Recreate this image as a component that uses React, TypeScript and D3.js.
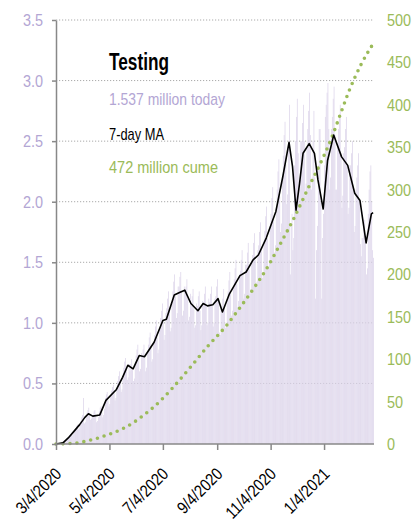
import React, { useEffect, useRef } from "react";
import * as d3 from "d3";

// daily tests (millions), one row per week starting Wed 3/4/2020
const dailyTests = [
  0.0, 0.0, 0.01, 0.0, 0.0, 0.01, 0.01,
  0.02, 0.02, 0.03, 0.03, 0.02, 0.03, 0.04,
  0.06, 0.07, 0.08, 0.09, 0.07, 0.08, 0.1,
  0.12, 0.13, 0.15, 0.16, 0.12, 0.13, 0.16,
  0.19, 0.22, 0.24, 0.38, 0.17, 0.18, 0.23,
  0.26, 0.28, 0.3, 0.25, 0.2, 0.21, 0.24,
  0.24, 0.27, 0.28, 0.24, 0.18, 0.19, 0.22,
  0.27, 0.3, 0.31, 0.26, 0.22, 0.24, 0.29,
  0.38, 0.41, 0.43, 0.36, 0.31, 0.33, 0.4,
  0.44, 0.47, 0.49, 0.42, 0.36, 0.38, 0.46,
  0.52, 0.56, 0.6, 0.52, 0.43, 0.45, 0.55,
  0.63, 0.68, 0.71, 0.62, 0.53, 0.55, 0.66,
  0.6, 0.66, 0.7, 0.61, 0.52, 0.54, 0.68,
  0.73, 0.78, 0.82, 0.7, 0.6, 0.62, 0.75,
  0.72, 0.78, 0.82, 0.71, 0.6, 0.63, 0.76,
  0.82, 0.88, 0.92, 0.8, 0.68, 0.7, 0.84,
  0.9, 0.97, 1.02, 0.88, 0.75, 0.78, 0.94,
  1.04, 1.1, 1.16, 1.01, 0.86, 0.9, 1.08,
  1.12, 1.2, 1.26, 1.1, 0.93, 0.96, 1.16,
  1.26, 1.34, 1.4, 1.22, 1.04, 1.08, 1.3,
  1.3, 1.38, 1.42, 1.25, 1.06, 1.1, 1.3,
  1.24, 1.3, 1.36, 1.2, 1.02, 1.05, 1.24,
  1.14, 1.22, 1.28, 1.12, 0.96, 0.98, 1.16,
  1.14, 1.22, 1.26, 1.1, 0.94, 0.98, 1.18,
  1.16, 1.24, 1.3, 1.14, 0.98, 1.0, 1.2,
  1.17, 1.24, 1.3, 1.14, 0.97, 1.0, 1.2,
  1.22, 1.3, 1.36, 1.18, 0.92, 0.9, 1.12,
  1.08, 1.2, 1.28, 1.12, 0.96, 1.0, 1.2,
  1.26, 1.35, 1.42, 1.24, 1.06, 1.1, 1.3,
  1.36, 1.45, 1.52, 1.32, 1.13, 1.18, 1.4,
  1.43, 1.52, 1.6, 1.4, 1.2, 1.24, 1.48,
  1.48, 1.58, 1.66, 1.44, 1.24, 1.28, 1.52,
  1.56, 1.66, 1.74, 1.52, 1.3, 1.34, 1.6,
  1.64, 1.75, 1.83, 1.6, 1.37, 1.42, 1.68,
  1.76, 1.88, 1.96, 1.7, 1.46, 1.52, 1.8,
  1.9, 2.03, 2.12, 1.84, 1.58, 1.64, 1.95,
  2.1, 2.25, 2.35, 2.04, 1.75, 1.82, 2.16,
  2.38, 2.55, 2.66, 2.31, 1.98, 2.06, 2.45,
  2.8, 1.4, 1.8, 1.9, 1.6, 1.7, 2.3,
  2.5, 2.7, 2.85, 2.4, 2.0, 2.1, 2.5,
  2.5, 2.65, 2.8, 2.5, 2.05, 2.15, 2.45,
  2.6, 2.75, 2.9, 2.55, 2.1, 2.2, 2.5,
  2.75, 2.2, 1.2, 1.6, 1.8, 2.3, 2.6,
  2.6, 2.0, 1.2, 1.7, 1.9, 2.3, 2.7,
  2.8, 2.9, 2.98, 2.6, 2.1, 2.2, 2.6,
  2.7, 2.85, 2.95, 2.55, 2.1, 2.1, 2.45,
  2.6, 2.7, 2.8, 2.4, 1.95, 2.05, 2.4,
  2.45, 2.6, 2.7, 2.3, 1.9, 1.95, 2.3,
  2.3, 2.4, 2.5, 2.1, 1.75, 1.8, 2.1,
  2.2, 2.3, 2.4, 2.0, 1.65, 1.55, 1.7,
  1.7, 1.8, 1.85, 1.7, 1.4, 1.45, 1.9,
  2.1, 2.25, 2.3, 2.0, 1.6, 1.537,
];

// 7-day moving average, read at day offsets from 3/4/2020
const maDay = [
  0, 8, 14, 20, 27, 33, 37, 42, 50, 57, 69, 76, 82, 88, 95, 101, 112, 122, 126,
  135, 141, 147, 154, 162, 168, 173, 179, 185, 190, 198, 210, 217, 225, 231,
  240, 251, 259, 266, 270, 274, 278, 282, 289, 295, 299, 305, 310, 317, 326,
  333, 341, 347, 354, 360, 362,
];
const maValue = [
  0.0, 0.01, 0.05, 0.1, 0.16, 0.22, 0.25, 0.23, 0.24, 0.36, 0.45, 0.55, 0.65,
  0.62, 0.73, 0.72, 0.84, 1.02, 1.03, 1.23, 1.25, 1.27, 1.16, 1.1, 1.16, 1.14,
  1.15, 1.2, 1.09, 1.24, 1.39, 1.42, 1.52, 1.56, 1.7, 1.92, 2.21, 2.49, 2.29,
  1.93, 2.15, 2.4, 2.48, 2.4, 2.18, 1.94, 2.34, 2.55, 2.37, 2.3, 2.07, 2.01,
  1.66, 1.9, 1.91,
];

// cumulative tests (millions), right axis
const cumeDay = [
  0, 20, 35, 49, 62, 75, 88, 100, 112, 123, 133, 153, 173, 194, 208, 226, 240,
  255, 271, 288, 305, 315, 325, 334, 348, 362,
];
const cumeValue = [
  0, 0.8, 3.5, 7.4, 12, 17.5, 25, 34, 44, 55, 66, 90, 115, 139, 158, 184, 206,
  234, 265, 302, 338, 362, 390, 415, 447, 472,
];

const leftTicks = [0, 0.5, 1, 1.5, 2, 2.5, 3, 3.5];
const rightTicks = [0, 50, 100, 150, 200, 250, 300, 350, 400, 450, 500];
const xTickLabels = ["3/4/2020", "5/4/2020", "7/4/2020", "9/4/2020", "11/4/2020", "1/4/2021"];

// squeeze a text horizontally to fake a condensed face
function condense(el: SVGTextElement, k: number) {
  const w = el.getComputedTextLength();
  el.setAttribute("textLength", String(w * k));
  el.setAttribute("lengthAdjust", "spacingAndGlyphs");
}

const App: React.FC = () => {
  const svgRef = useRef<SVGSVGElement | null>(null);
  const width = 414;
  const height = 529;
  const left = 56;
  const right = 374;
  const top = 20;
  const bottom = 444;
  const font = "'Liberation Sans', Arial, sans-serif";
  const purple = "#b3a6d4";
  const green = "#9bbb59";
  const barColor = "#dcd4ea";

  useEffect(() => {
    if (!svgRef.current) return;
    const svg = d3.select(svgRef.current);
    svg.selectAll("*").remove();

    const start = new Date(2020, 2, 4);
    const end = d3.timeDay.offset(start, dailyTests.length);
    const dayDate = (i: number) => d3.timeDay.offset(start, i);

    const xScale = d3.scaleTime().domain([start, end]).range([left, right]);
    const yScale = d3.scaleLinear().domain([0, 3.5]).range([bottom, top]);
    const y2Scale = d3.scaleLinear().domain([0, 500]).range([bottom, top]);

    // dotted grid
    svg
      .append("g")
      .selectAll("line")
      .data(leftTicks.filter((t) => t > 0))
      .enter()
      .append("line")
      .attr("x1", left)
      .attr("x2", right - 1)
      .attr("y1", (d) => yScale(d))
      .attr("y2", (d) => yScale(d))
      .attr("stroke", "#aaa")
      .attr("stroke-width", 1)
      .attr("stroke-dasharray", "1.2 1.8");

    // daily bars
    svg
      .append("g")
      .selectAll("rect")
      .data(dailyTests)
      .enter()
      .append("rect")
      .attr("x", (_d, i) => xScale(dayDate(i)))
      .attr("width", (_d, i) => (xScale(dayDate(i + 1)) - xScale(dayDate(i))) * 0.85)
      .attr("y", (d) => yScale(d))
      .attr("height", (d) => bottom - yScale(d))
      .attr("fill", barColor);

    // cumulative dotted line
    const cumeLine = d3
      .line<number>()
      .x((d) => xScale(dayDate(d)))
      .y((_d, i) => y2Scale(cumeValue[i]))
      .curve(d3.curveMonotoneX);
    svg
      .append("path")
      .datum(cumeDay)
      .attr("d", cumeLine)
      .attr("fill", "none")
      .attr("stroke", green)
      .attr("stroke-width", 3.6)
      .attr("stroke-linecap", "round")
      .attr("stroke-dasharray", "0 7");

    // 7-day MA line
    const maLine = d3
      .line<number>()
      .x((d) => xScale(dayDate(d)))
      .y((_d, i) => yScale(maValue[i]));
    svg
      .append("path")
      .datum(maDay)
      .attr("d", maLine)
      .attr("fill", "none")
      .attr("stroke", "#000")
      .attr("stroke-width", 1.6)
      .attr("stroke-linejoin", "round");

    // left axis
    const leftAxis = svg
      .append("g")
      .attr("transform", `translate(${left},0)`)
      .call(
        d3
          .axisLeft(yScale)
          .tickValues(leftTicks)
          .tickFormat(d3.format(".1f"))
          .tickSize(4)
          .tickSizeOuter(0)
          .tickPadding(9)
      );
    leftAxis.select(".domain").attr("stroke", "#888").attr("stroke-width", 1.5);
    leftAxis.selectAll(".tick line").attr("stroke", "#888").attr("stroke-width", 1.5);
    leftAxis
      .selectAll<SVGTextElement, unknown>("text")
      .attr("fill", purple)
      .style("font-family", font)
      .style("font-size", "17px")
      .each(function () {
        condense(this, 0.85);
      });

    // right axis
    const rightAxis = svg
      .append("g")
      .attr("transform", `translate(387,0)`)
      .call(d3.axisRight(y2Scale).tickValues(rightTicks).tickSize(0).tickPadding(0));
    rightAxis.select(".domain").remove();
    rightAxis
      .selectAll<SVGTextElement, unknown>("text")
      .attr("fill", green)
      .style("font-family", font)
      .style("font-size", "17px")
      .each(function () {
        condense(this, 0.85);
      });

    // bottom axis
    const xTickDates = xTickLabels.map((s) => d3.timeParse("%m/%d/%Y")(s) as Date);
    const bottomAxis = svg
      .append("g")
      .attr("transform", `translate(0,${bottom})`)
      .call(
        d3
          .axisBottom(xScale)
          .tickValues(xTickDates)
          .tickFormat((_d, i) => xTickLabels[i])
          .tickSize(6)
          .tickSizeOuter(0)
      );
    bottomAxis
      .select(".domain")
      .attr("stroke", "#888")
      .attr("stroke-width", 1.5)
      .attr("d", `M${left},0H${right}`);
    bottomAxis.selectAll(".tick line").attr("stroke", "#888").attr("stroke-width", 1.5);
    bottomAxis
      .selectAll<SVGTextElement, unknown>("text")
      .attr("fill", "#000")
      .style("font-family", font)
      .style("font-size", "17px")
      .style("text-anchor", "end")
      .attr("dy", "0")
      .attr("y", 0)
      .attr("transform", "translate(6,31) rotate(-45)")
      .each(function () {
        condense(this, 0.85);
      });

    // legend text
    const legend = svg.append("g").style("font-family", font);
    legend
      .append("text")
      .attr("x", 109)
      .attr("y", 70)
      .text("Testing")
      .attr("fill", "#000")
      .style("font-size", "23px")
      .style("font-weight", "bold")
      .attr("textLength", 60)
      .attr("lengthAdjust", "spacingAndGlyphs");
    const rows: [string, number, string, number][] = [
      ["1.537 million today", 105, purple, 116],
      ["7-day MA", 140, "#000", 55],
      ["472 million cume", 173, green, 109],
    ];
    rows.forEach(([label, y, color, w]) => {
      legend
        .append("text")
        .attr("x", 109)
        .attr("y", y)
        .text(label)
        .attr("fill", color)
        .style("font-size", "17px")
        .attr("textLength", w)
        .attr("lengthAdjust", "spacingAndGlyphs");
    });
  }, []);

  return (
    <svg
      ref={svgRef}
      width={width}
      height={height}
      style={{ position: "absolute", left: 0, top: 0, background: "#fff" }}
    ></svg>
  );
};

export default App;
